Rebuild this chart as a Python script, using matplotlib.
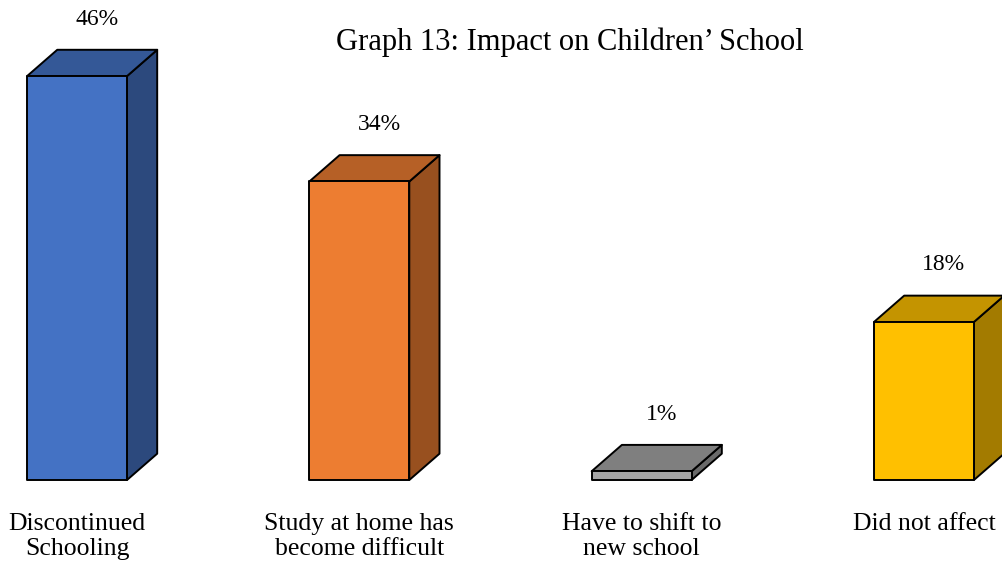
import numpy as np
import matplotlib.pyplot as plt
from matplotlib.patches import Polygon
from matplotlib.colors import to_rgb

categories = ["Discontinued\nSchooling", "Study at home has\nbecome difficult",
              "Have to shift to\nnew school", "Did not affect"]
values = [46, 34, 1, 18]
labels = ["46%", "34%", "1%", "18%"]
colors = ["#4472C4", "#ED7D31", "#A5A5A5", "#FFC000"]

plt.rcParams['font.family'] = ['Liberation Serif', 'DejaVu Serif']

fig = plt.figure(figsize=(10.03, 5.63), dpi=100)
ax = fig.add_axes([0, 0, 1, 1])
ax.set_xlim(-0.2728, 3.280)
ax.set_ylim(-9.45, 54.67)
ax.axis("off")

width = 0.354
dx = 0.107   # depth offset along x
dy = 3.0     # depth offset along y


def shade(c, f):
    r, g, b = to_rgb(c)
    return (r * f, g * f, b * f)


for i, (v, c) in enumerate(zip(values, colors)):
    x0, x1 = i - width / 2, i + width / 2
    front = [(x0, 0), (x1, 0), (x1, v), (x0, v)]
    top = [(x0, v), (x1, v), (x1 + dx, v + dy), (x0 + dx, v + dy)]
    side = [(x1, 0), (x1 + dx, dy), (x1 + dx, v + dy), (x1, v)]
    ax.add_patch(Polygon(side, closed=True, fc=shade(c, 0.64), ec="black", lw=1.4, joinstyle="round"))
    ax.add_patch(Polygon(top, closed=True, fc=shade(c, 0.77), ec="black", lw=1.4, joinstyle="round"))
    ax.add_patch(Polygon(front, closed=True, fc=c, ec="black", lw=1.4, joinstyle="round"))
    ax.text(i + 0.07, v + 6.5, labels[i], ha="center", va="center", fontsize=17)
    ax.text(i, -3.7, categories[i], ha="center", va="top", fontsize=18.5, linespacing=1.2)

ax.text(1.745, 49.9, "Graph 13: Impact on Children\u2019 School", ha="center", va="center", fontsize=22)

plt.savefig("out.png", dpi=100)
